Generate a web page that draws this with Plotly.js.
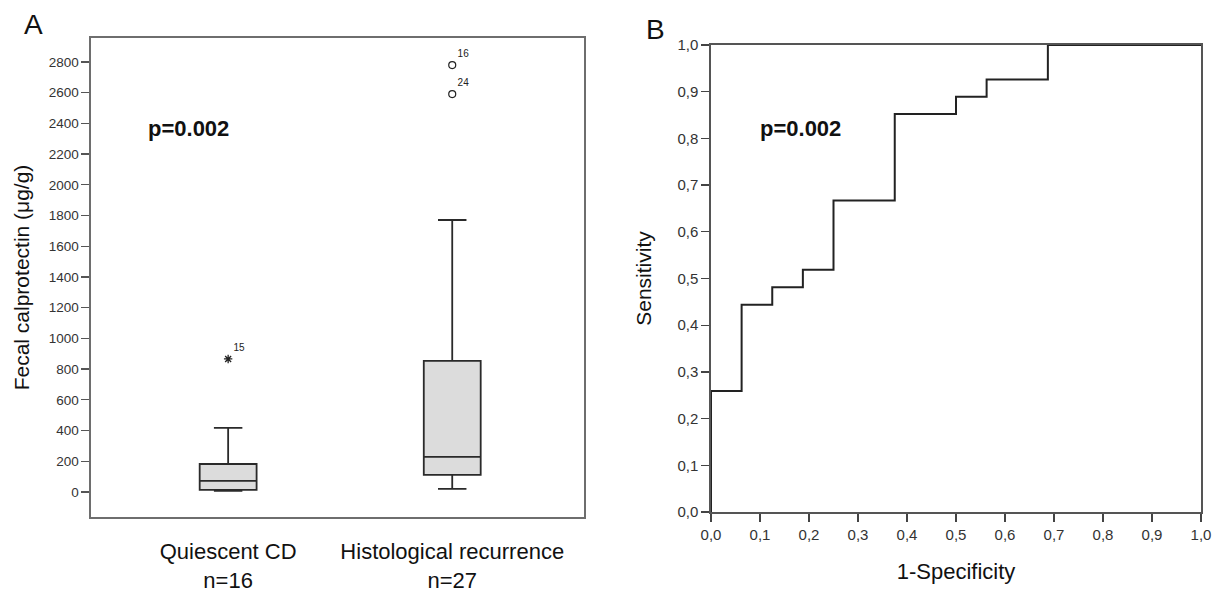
<!DOCTYPE html>
<html>
<head>
<meta charset="utf-8">
<script src="https://cdn.plot.ly/plotly-3.0.1.min.js"></script>
<style>html,body{margin:0;padding:0;background:#fff;}#chart{width:1218px;height:594px;}</style>
</head>
<body>
<div id="chart"></div>
<script>
// ---- Panel A data (box plot summary, µg/g) ----
var groups = ["Quiescent CD", "Histological recurrence"];
var groupLabels = ["Quiescent CD<br>n=16", "Histological recurrence<br>n=27"];
var q1 = [13, 111];
var medians = [72, 228];
var q3 = [182, 853];
var lowerWhisker = [7, 20];
var upperWhisker = [417, 1771];
// outliers
var extremeGroup = ["Quiescent CD"];
var extremeValues = [866];
var extremeIds = ["15"];
var outlierGroup = ["Histological recurrence", "Histological recurrence"];
var outlierValues = [2780, 2591];
var outlierIds = ["16", "24"];
var yTicksA = [0,200,400,600,800,1000,1200,1400,1600,1800,2000,2200,2400,2600,2800];

// ---- Panel B data (ROC curve) ----
var fpr = [0, 0, 0.0625, 0.125, 0.1875, 0.25, 0.375, 0.5, 0.5625, 0.6875, 1];
var tpr = [0, 0.259, 0.444, 0.481, 0.519, 0.667, 0.852, 0.889, 0.926, 1, 1];
var rocTicks = [0,0.1,0.2,0.3,0.4,0.5,0.6,0.7,0.8,0.9,1.0];
var rocTickText = ["0,0","0,1","0,2","0,3","0,4","0,5","0,6","0,7","0,8","0,9","1,0"];

var REG = "Liberation Sans, Arial, sans-serif";

var traces = [];
for (var i = 0; i < groups.length; i++) {
  traces.push({
    type: "box", xaxis: "x", yaxis: "y",
    x: [groups[i]],
    q1: [q1[i]], median: [medians[i]], q3: [q3[i]],
    lowerfence: [lowerWhisker[i]], upperfence: [upperWhisker[i]],
    width: 0.254, whiskerwidth: 0.5,
    fillcolor: "#dcdcdc",
    line: {color: "#2a2a2a", width: 1.8},
    boxpoints: false, hoverinfo: "skip", showlegend: false
  });
}
traces.push({
  type: "scatter", mode: "markers+text", xaxis: "x", yaxis: "y",
  x: extremeGroup, y: extremeValues, text: extremeIds,
  textposition: "top right", textfont: {family: REG, size: 10, color: "#222"},
  marker: {symbol: "asterisk-open", size: 7, color: "#222", line: {color: "#222", width: 1.3}},
  showlegend: false, hoverinfo: "skip"
});
traces.push({
  type: "scatter", mode: "markers+text", xaxis: "x", yaxis: "y",
  x: outlierGroup, y: outlierValues, text: outlierIds,
  textposition: "top right", textfont: {family: REG, size: 10, color: "#222"},
  marker: {symbol: "circle-open", size: 7, color: "#222", line: {color: "#222", width: 1.2}},
  showlegend: false, hoverinfo: "skip"
});
traces.push({
  type: "scatter", mode: "lines", xaxis: "x2", yaxis: "y2",
  x: fpr, y: tpr, line: {shape: "hv", color: "#222", width: 2},
  showlegend: false, hoverinfo: "skip"
});

var W = 1218, H = 594;
var layout = {
  width: W, height: H,
  margin: {l: 0, r: 0, t: 0, b: 0},
  paper_bgcolor: "#fff", plot_bgcolor: "#fff",
  showlegend: false,
  xaxis: {
    domain: [91 / W, 584 / W],
    type: "category", categoryorder: "array", categoryarray: groups,
    range: [-0.612, 1.588],
    tickmode: "array", tickvals: groups, ticktext: groupLabels,
    ticks: "", ticklabelstandoff: 14,
    tickfont: {family: REG, size: 22, color: "#111"},
    showline: true, mirror: true, linecolor: "#6e6e6e", linewidth: 1.6,
    showgrid: false, zeroline: false, fixedrange: true
  },
  yaxis: {
    domain: [(H - 517) / H, (H - 38) / H],
    range: [-163, 2956],
    tickmode: "array", tickvals: yTicksA,
    ticks: "outside", ticklen: 8, tickwidth: 1.3, tickcolor: "#555",
    tickfont: {family: REG, size: 13.5, color: "#333"},
    showline: true, mirror: true, linecolor: "#6e6e6e", linewidth: 1.6,
    showgrid: false, zeroline: false,
    title: {text: "Fecal calprotectin (μg/g)", font: {family: REG, size: 21, color: "#111"}, standoff: 13}
  },
  xaxis2: {
    domain: [711 / W, 1201 / W], anchor: "y2",
    range: [0, 1],
    tickmode: "array", tickvals: rocTicks, ticktext: rocTickText,
    ticks: "outside", ticklen: 8, tickwidth: 1.3, tickcolor: "#444",
    tickfont: {family: REG, size: 15, color: "#333"},
    showline: true, mirror: true, linecolor: "#555", linewidth: 1.6,
    showgrid: false, zeroline: false,
    title: {text: "1-Specificity", font: {family: REG, size: 22, color: "#111"}, standoff: 22}
  },
  yaxis2: {
    domain: [(H - 512) / H, (H - 45) / H], anchor: "x2",
    range: [0, 1],
    tickmode: "array", tickvals: rocTicks, ticktext: rocTickText,
    ticks: "outside", ticklen: 8, tickwidth: 1.3, tickcolor: "#444",
    tickfont: {family: REG, size: 15, color: "#333"},
    showline: true, mirror: true, linecolor: "#555", linewidth: 1.6,
    showgrid: false, zeroline: false,
    title: {text: "Sensitivity", font: {family: REG, size: 21, color: "#111"}, standoff: 20}
  },
  annotations: [
    {xref: "paper", yref: "paper", x: 33 / W, y: (H - 25) / H, text: "A", showarrow: false,
     font: {family: REG, size: 28, color: "#111"}, xanchor: "center", yanchor: "middle"},
    {xref: "paper", yref: "paper", x: 655 / W, y: (H - 29) / H, text: "B", showarrow: false,
     font: {family: REG, size: 28, color: "#111"}, xanchor: "center", yanchor: "middle"},
    {xref: "paper", yref: "paper", x: 188 / W, y: (H - 128) / H, text: "<b>p=0.002</b>", showarrow: false,
     font: {family: REG, size: 22, color: "#111"}, xanchor: "center", yanchor: "middle"},
    {xref: "paper", yref: "paper", x: 800 / W, y: (H - 128) / H, text: "<b>p=0.002</b>", showarrow: false,
     font: {family: REG, size: 22, color: "#111"}, xanchor: "center", yanchor: "middle"}
  ]
};

Plotly.newPlot("chart", traces, layout, {displayModeBar: false, staticPlot: true});
</script>
</body>
</html>
